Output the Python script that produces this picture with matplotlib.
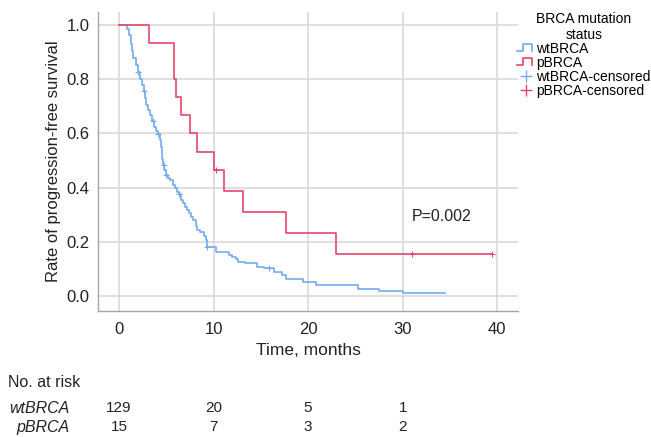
import numpy as np
import matplotlib.pyplot as plt
from matplotlib.lines import Line2D
from matplotlib.legend_handler import HandlerBase
from matplotlib.transforms import blended_transform_factory

plt.rcParams['font.family'] = ['Liberation Sans', 'DejaVu Sans']

# wtBRCA step curve (time in months, survival after the step)
wt_time = [0, 0.9, 1.1, 1.3, 1.4, 1.5, 1.8, 2.0, 2.2, 2.4, 2.6, 2.8, 2.9, 3.1, 3.3,
           3.5, 3.7, 3.9, 4.1, 4.3, 4.4, 4.5, 4.6, 4.7, 4.8, 4.95, 5.2, 5.4, 5.7,
           5.9, 6.1, 6.3, 6.6, 6.8, 7.0, 7.2, 7.4, 7.6, 7.8, 8.1, 8.3, 8.6, 9.0,
           9.2, 9.3, 10.3, 11.6, 12.0, 12.4, 12.6, 13.3, 14.6, 15.3, 16.4, 17.2,
           17.7, 19.5, 20.8, 25.3, 27.5, 30.0, 34.5]
wt_surv = [1.0, 0.985, 0.963, 0.93, 0.905, 0.877, 0.852, 0.825, 0.80, 0.779, 0.756,
           0.73, 0.705, 0.685, 0.668, 0.645, 0.625, 0.61, 0.597, 0.575, 0.551, 0.53,
           0.505, 0.483, 0.465, 0.446, 0.437, 0.428, 0.41, 0.397, 0.385, 0.375,
           0.355, 0.342, 0.33, 0.317, 0.305, 0.29, 0.28, 0.26, 0.245, 0.235, 0.22,
           0.207, 0.182, 0.164, 0.152, 0.145, 0.136, 0.127, 0.121, 0.108, 0.102,
           0.09, 0.077, 0.062, 0.053, 0.041, 0.028, 0.020, 0.010, 0.010]
wt_cens_time = [2.0, 2.65, 3.55, 4.15, 4.72, 4.97, 6.35, 9.35, 15.9]
wt_cens_surv = [0.825, 0.756, 0.645, 0.597, 0.483, 0.446, 0.375, 0.182, 0.102]

# pBRCA step curve
p_time = [0, 3.2, 5.8, 6.0, 6.6, 7.5, 8.3, 10.0, 11.1, 13.1, 17.7, 23.0, 39.4]
p_surv = [1.0, 0.933, 0.80, 0.733, 0.667, 0.60, 0.533, 0.467, 0.389, 0.311, 0.233,
          0.156, 0.156]
p_cens_time = [10.3, 31.0, 39.4]
p_cens_surv = [0.467, 0.156, 0.156]

risk_times = [0, 10, 20, 30]
risk_wt = [129, 20, 5, 1]
risk_p = [15, 7, 3, 2]

blue = '#74aaee'
red = '#e5476c'


class StepHandler(HandlerBase):
    def create_artists(self, legend, orig_handle, xdescent, ydescent, width, height,
                       fontsize, trans):
        lo = -ydescent + 0.2 * height
        hi = -ydescent + 0.85 * height
        xs = [-xdescent, -xdescent + 0.35 * width, -xdescent + 0.35 * width,
              -xdescent + 0.85 * width, -xdescent + 0.85 * width]
        ys = [lo, lo, hi, hi, lo]
        ln = Line2D(xs, ys, color=orig_handle.get_color(), lw=1.2, transform=trans)
        return [ln]


fig = plt.figure(figsize=(6.51, 4.37), dpi=100)
ax = fig.add_axes([0.1505, 0.2883, 0.6452, 0.6842])

ax.step(wt_time, wt_surv, where='post', color=blue, lw=1.2)
ax.plot(wt_cens_time, wt_cens_surv, '+', color=blue, ms=5, mew=0.8)
ax.step(p_time, p_surv, where='post', color=red, lw=1.2)
ax.plot(p_cens_time, p_cens_surv, '+', color=red, ms=5, mew=0.8)

ax.set_xlim(-2.22, 42.2)
ax.set_ylim(-0.055, 1.048)
ax.set_xticks([0, 10, 20, 30, 40])
ax.set_yticks([0.0, 0.2, 0.4, 0.6, 0.8, 1.0])
ax.set_yticklabels(['0.0', '0.2', '0.4', '0.6', '0.8', '1.0'])
ax.grid(True, color='#d9d9d9', lw=1.2)
ax.set_axisbelow(True)
ax.tick_params(length=0, labelsize=12, colors='#222222', pad=8)
ax.tick_params(axis='y', pad=6)
for s in ['top', 'right']:
    ax.spines[s].set_visible(False)
for s in ['left', 'bottom']:
    ax.spines[s].set_color('#a6a6a6')
    ax.spines[s].set_linewidth(1.0)

ax.set_xlabel('Time, months', fontsize=12.5, color='#222222', labelpad=4)
ax.set_ylabel('Rate of progression-free survival', fontsize=12, color='#222222',
              labelpad=4)
ax.text(31.0, 0.295, 'P=0.002', fontsize=11.5, color='#222222', va='center')

handles = [Line2D([], [], color=blue), Line2D([], [], color=red),
           Line2D([], [], color=blue, marker='+', ls='none', ms=9, mew=1.0),
           Line2D([], [], color=red, marker='+', ls='none', ms=9, mew=1.0)]
labels = ['wtBRCA', 'pBRCA', 'wtBRCA-censored', 'pBRCA-censored']
leg = fig.legend(handles, labels, title='BRCA mutation\nstatus',
                 loc='upper left', bbox_to_anchor=(0.79, 0.98),
                 frameon=False, fontsize=10, title_fontsize=10,
                 handlelength=1.3, handletextpad=0.1, labelspacing=0.0,
                 borderaxespad=0, borderpad=0.2,
                 handler_map={handles[0]: StepHandler(), handles[1]: StepHandler()})
leg.get_title().set_multialignment('center')

# risk table
tr = blended_transform_factory(ax.transData, fig.transFigure)
fig.text(0.012, 0.125, 'No. at risk', fontsize=11.5, color='#222222', va='center')
fig.text(0.107, 0.066, 'wtBRCA', fontsize=11.5, style='italic', color='#222222',
         va='center', ha='right')
fig.text(0.107, 0.022, 'pBRCA', fontsize=11.5, style='italic', color='#222222',
         va='center', ha='right')
for t, a, b in zip(risk_times, risk_wt, risk_p):
    ax.text(t, 0.066, str(a), transform=tr, fontsize=11, ha='center', va='center',
            color='#222222')
    ax.text(t, 0.022, str(b), transform=tr, fontsize=11, ha='center', va='center',
            color='#222222')

fig.savefig('out.png', dpi=100)
